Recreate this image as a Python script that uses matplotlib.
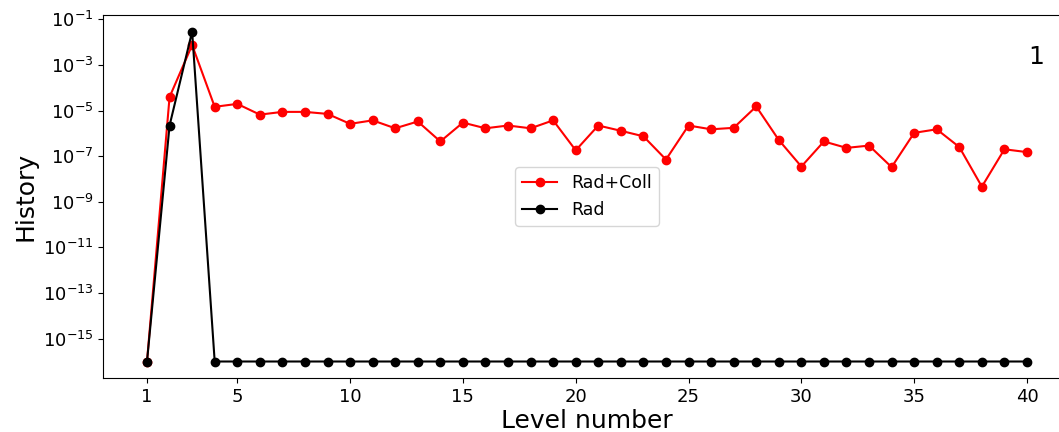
import matplotlib
matplotlib.use("Agg")
import matplotlib.pyplot as plt
import numpy as np
from matplotlib.ticker import LogFormatterSciNotation, FixedLocator, NullLocator

levels = list(range(1, 41))
rad_coll = [1e-16, 3.9e-5, 7.4e-3, 1.45e-5, 1.95e-5, 6.6e-6, 8.7e-6, 8.7e-6, 7.1e-6, 2.6e-6,
            3.7e-6, 1.66e-6, 3.3e-6, 4.4e-7, 2.95e-6, 1.66e-6, 2.2e-6, 1.66e-6, 3.7e-6, 1.8e-7,
            2.2e-6, 1.29e-6, 7.4e-7, 7.1e-8, 2.2e-6, 1.5e-6, 1.74e-6, 1.5e-5, 5.1e-7, 3.5e-8,
            4.4e-7, 2.3e-7, 2.9e-7, 3.3e-8, 1.05e-6, 1.5e-6, 2.5e-7, 4.6e-9, 2.0e-7, 1.5e-7]
rad = [1e-16, 2.2e-6, 2.9e-2] + [1e-16] * 37
xticks = [1, 5, 10, 15, 20, 25, 30, 35, 40]
yticks = [1e-1, 1e-3, 1e-5, 1e-7, 1e-9, 1e-11, 1e-13, 1e-15]

fig = plt.figure(figsize=(10.59, 4.32), dpi=100)
ax = fig.add_axes([103/1059, 1-378/432, (1071-103)/1059, (378-15)/432])
ax.plot(levels, rad_coll, color='red', marker='o', markersize=6, linewidth=1.5, label='Rad+Coll')
ax.plot(levels, rad, color='black', marker='o', markersize=6, linewidth=1.5, label='Rad')
ax.set_yscale('log')
ax.yaxis.set_major_locator(FixedLocator(yticks))
ax.yaxis.set_major_formatter(LogFormatterSciNotation())
ax.yaxis.set_minor_locator(NullLocator())
ax.set_xticks(xticks)
ax.tick_params(labelsize=13)
ax.set_xlabel('Level number', fontsize=18, labelpad=2)
ax.set_ylabel('History', fontsize=18)
ax.legend(loc='center', fontsize=12.5)
ax.text(0.964, 0.884, '1', transform=ax.transAxes, fontsize=18, ha='center', va='center')
fig.savefig('out.png', dpi=100)
